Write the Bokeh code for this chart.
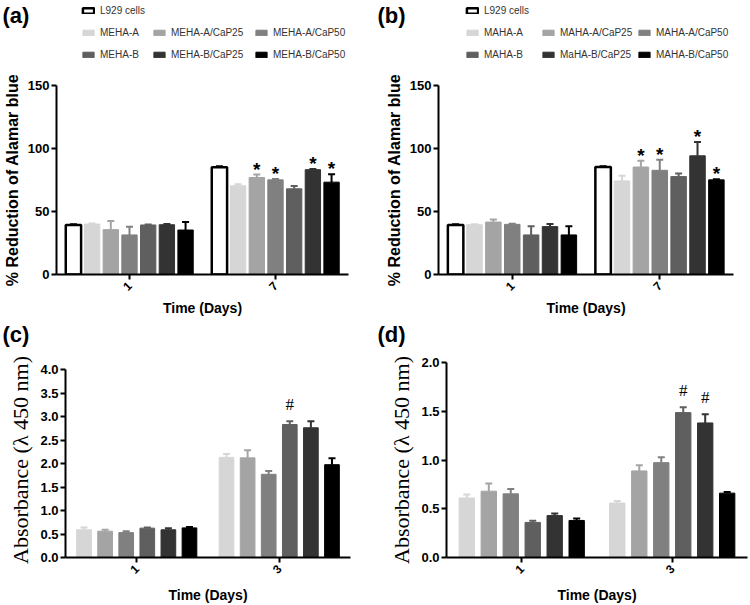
import math
from bokeh.plotting import figure
from bokeh.models import (ColumnDataSource, FactorRange, Range1d, FixedTicker,
                          NumeralTickFormatter, Legend, LegendItem, Label)
from bokeh.transform import dodge
from bokeh.layouts import column, row
from bokeh.embed import file_html
from bokeh.resources import INLINE

# ---------------- data ----------------
days_ab = ["1", "7"]
days_cd = ["1", "3"]

names_a = ["L929 cells", "MEHA-A", "MEHA-A/CaP25", "MEHA-A/CaP50",
           "MEHA-B", "MEHA-B/CaP25", "MEHA-B/CaP50"]
names_b = ["L929 cells", "MAHA-A", "MAHA-A/CaP25", "MAHA-A/CaP50",
           "MAHA-B", "MaHA-B/CaP25", "MAHA-B/CaP50"]
names_c = names_a[1:]
names_d = names_b[1:]

colors7 = ["#ffffff", "#d6d6d6", "#a4a4a4", "#808080", "#5f5f5f", "#333333", "#000000"]
colors6 = colors7[1:]

# (a) Alamar blue, MEHA
a_day1 = [39.3, 40.0, 35.6, 31.4, 39.3, 39.5, 35.3]
a_day1_err = [0.6, 0.5, 6.8, 6.5, 0.4, 0.5, 6.3]
a_day7 = [85.1, 70.4, 77.0, 75.1, 68.0, 83.2, 73.3]
a_day7_err = [0.8, 1.3, 2.3, 0.6, 2.2, 0.6, 6.3]
a_sig1 = ["", "", "", "", "", "", ""]
a_sig7 = ["", "", "*", "*", "", "*", "*"]

# (b) Alamar blue, MAHA
b_day1 = [39.3, 39.5, 41.6, 39.8, 31.4, 38.0, 31.4]
b_day1_err = [0.6, 0.4, 2.1, 0.4, 6.8, 2.0, 6.8]
b_day7 = [85.3, 74.3, 85.3, 82.7, 77.7, 94.2, 75.1]
b_day7_err = [0.6, 4.0, 5.0, 8.4, 2.4, 11.0, 0.4]
b_sig1 = ["", "", "", "", "", "", ""]
b_sig7 = ["", "", "*", "*", "", "*", "*"]

# (c) Absorbance, MEHA
c_day1 = [0.59, 0.56, 0.53, 0.625, 0.59, 0.63]
c_day1_err = [0.05, 0.03, 0.03, 0.015, 0.03, 0.02]
c_day3 = [2.13, 2.12, 1.77, 2.83, 2.76, 1.975]
c_day3_err = [0.07, 0.16, 0.07, 0.07, 0.14, 0.135]
c_sig1 = ["", "", "", "", "", ""]
c_sig3 = ["", "", "", "#", "", ""]

# (d) Absorbance, MAHA
d_day1 = [0.61, 0.68, 0.653, 0.36, 0.43, 0.38]
d_day1_err = [0.036, 0.08, 0.05, 0.018, 0.022, 0.02]
d_day3 = [0.558, 0.888, 0.973, 1.486, 1.38, 0.66]
d_day3_err = [0.022, 0.058, 0.054, 0.054, 0.09, 0.013]
d_sig1 = ["", "", "", "", "", ""]
d_sig3 = ["", "", "", "#", "#", ""]

ticks_ab = [0, 50, 100, 150]
ticks_cd4 = [0, 0.5, 1.0, 1.5, 2.0, 2.5, 3.0, 3.5, 4.0]
ticks_cd2 = [0, 0.5, 1.0, 1.5, 2.0]

tags = ["(a)", "(b)", "(c)", "(d)"]

SANS = "Liberation Sans"
SERIF = "Liberation Serif"
NAN = float("nan")


def style_of(col):
    if col == "#ffffff":
        return "black", 2.5, "black"
    return col, 1, col


def make_panel(days, names, colors, v1, e1, v2, e2, s1, s2,
               y_top, y_end, ticks, fmt, ylabel, ylabel_font, ylabel_size, ylabel_style,
               sig_font, sig_size, sig_style, sig_off, xlab_standoff,
               W, H, bl, br, bt, bb, pitch, barw):
    p = figure(width=W, height=H, x_range=FactorRange(factors=days, range_padding=0),
               y_range=Range1d(0, y_end), output_backend="svg", toolbar_location=None,
               min_border_left=bl, min_border_right=br, min_border_top=bt,
               min_border_bottom=bb)
    p.outline_line_color = None
    p.xgrid.visible = False
    p.ygrid.visible = False
    p.background_fill_color = "white"

    n = len(names)
    for i in range(n):
        off = (i - (n - 1) / 2) * pitch
        src = ColumnDataSource(dict(day=days, val=[v1[i], v2[i]],
                                    upper=[v1[i] + e1[i], v2[i] + e2[i]],
                                    sig=[s1[i], s2[i]]))
        xs = dodge("day", off, range=p.x_range)
        col = colors[i]
        lc, lw, ec = style_of(col)
        p.vbar(x=xs, top="val", width=barw, source=src, fill_color=col,
               line_color=lc, line_width=lw)
        p.segment(x0=xs, y0="val", x1=xs, y1="upper", source=src,
                  line_color=ec, line_width=2)
        p.scatter(x=xs, y="upper", source=src, marker="dash", size=7,
                  line_color=ec, line_width=2)
        p.text(x=xs, y="upper", text="sig", source=src, text_align="center",
               text_baseline="bottom", y_offset=sig_off, text_color="black",
               text_font={"value": sig_font}, text_font_size={"value": sig_size},
               text_font_style=sig_style)

    for ax in (p.xaxis[0], p.yaxis[0]):
        ax.axis_line_width = 2
        ax.axis_line_color = "black"
        ax.major_tick_line_width = 2
        ax.major_tick_line_color = "black"
        ax.major_tick_out = 5
        ax.major_tick_in = 0
        ax.minor_tick_line_color = None
        ax.major_label_text_font = SANS
        ax.major_label_text_font_style = "bold"
        ax.major_label_text_color = "black"

    xa = p.xaxis[0]
    xa.major_label_orientation = math.pi / 4
    xa.major_label_text_font_size = "12px"
    xa.major_label_standoff = 4
    xa.axis_label = "Time (Days)"
    xa.axis_label_text_font = SANS
    xa.axis_label_text_font_style = "bold"
    xa.axis_label_text_font_size = "14px"
    xa.axis_label_text_color = "black"
    xa.axis_label_standoff = xlab_standoff

    ya = p.yaxis[0]
    ya.ticker = FixedTicker(ticks=ticks)
    ya.formatter = NumeralTickFormatter(format=fmt)
    ya.bounds = (0, y_top)
    ya.major_label_text_font_size = "13px"
    ya.major_label_standoff = 2
    ya.axis_label = ylabel
    ya.axis_label_text_font = ylabel_font
    ya.axis_label_text_font_style = ylabel_style
    ya.axis_label_text_font_size = ylabel_size
    ya.axis_label_text_color = "black"
    ya.axis_label_standoff = 4
    return p


LEG_STYLE = dict(label_text_font=SANS, label_text_font_size="10px",
                 label_text_color="#333333", glyph_width=14, glyph_height=7,
                 label_standoff=5, spacing=9, padding=0, margin=0,
                 border_line_color=None, background_fill_alpha=0,
                 label_height=13)


def make_header(W, H, tag_specs, legend_specs):
    """A strip holding the panel tags and the legends (legend glyphs use NaN proxies)."""
    h = figure(width=W, height=H, x_range=Range1d(0, W), y_range=Range1d(0, H),
               output_backend="svg", toolbar_location=None,
               x_axis_location=None, y_axis_location=None,
               min_border_left=0, min_border_right=0, min_border_top=0,
               min_border_bottom=0)
    h.outline_line_color = None
    h.grid.visible = False
    h.background_fill_color = "white"
    for text, x, y in tag_specs:
        h.add_layout(Label(x=x, y=y, x_units="screen", y_units="screen", text=text,
                           text_font=SANS, text_font_size="22px",
                           text_font_style="bold", text_baseline="middle",
                           text_color="black"))
    for names, colors, groups in legend_specs:
        proxies = []
        for col in colors:
            lc, lw, _ = style_of(col)
            proxies.append(h.vbar(x=[NAN], top=[NAN], width=1, fill_color=col,
                                  line_color=lc, line_width=lw))
        for idx, loc in groups:
            items = [LegendItem(label=names[i], renderers=[proxies[i]]) for i in idx]
            h.add_layout(Legend(items=items, location=loc, **LEG_STYLE))
    return h


# legend groups: (series indices stacked in one column, location in the strip)
head_top = make_header(
    750, 75, [(tags[0], 2, 60), (tags[1], 377, 60)],
    [(names_a, colors7, [([0], (81, 58)), ([1, 4], (81, 14)),
                         ([2, 5], (152, 14)), ([3, 6], (254, 14))]),
     (names_b, colors7, [([0], (465, 58)), ([1, 4], (465, 14)),
                         ([2, 5], (541, 14)), ([3, 6], (637, 14))])])

pa = make_panel(days_ab, names_a, colors7, a_day1, a_day1_err, a_day7, a_day7_err,
                a_sig1, a_sig7, 150, 150, ticks_ab, "0", "% Reduction of Alamar blue", SANS,
                "16px", "bold", SANS, "19px", "bold", 5, 2,
                375, 243, 55, 27, 10, 42, 0.128, 0.105)

pb = make_panel(days_ab, names_b, colors7, b_day1, b_day1_err, b_day7, b_day7_err,
                b_sig1, b_sig7, 150, 150, ticks_ab, "0", "% Reduction of Alamar blue", SANS,
                "16px", "bold", SANS, "19px", "bold", 5, 2,
                375, 243, 63, 17, 10, 42, 0.128, 0.105)

head_bot = make_header(750, 30, [(tags[2], 2, 14), (tags[3], 377, 14)], [])

# frames of (c) and (d) share top and bottom in a row: (c) keeps its 4.0 top lower
# by extending its range a little above the axis' end
pc = make_panel(days_cd, names_c, colors6, c_day1, c_day1_err, c_day3, c_day3_err,
                c_sig1, c_sig3, 4.0, 4.0 * 195 / 188, ticks_cd4, "0.0",
                "Absorbance (\u03bb 450 nm)", SERIF,
                "22px", "normal", SERIF, "17px", "normal", -7, 6,
                375, 257, 65, 25, 14, 48, 0.148, 0.103)

pd_ = make_panel(days_cd, names_d, colors6, d_day1, d_day1_err, d_day3, d_day3_err,
                 d_sig1, d_sig3, 2.0, 2.0, ticks_cd2, "0.0",
                 "Absorbance (\u03bb 450 nm)", SERIF,
                 "22px", "normal", SERIF, "17px", "normal", -7, 6,
                 375, 257, 71, 3, 14, 48, 0.146, 0.102)

layout = column(head_top, row(pa, pb), head_bot, row(pc, pd_))

with open("out.html", "w") as f:
    f.write(file_html(layout, INLINE))
